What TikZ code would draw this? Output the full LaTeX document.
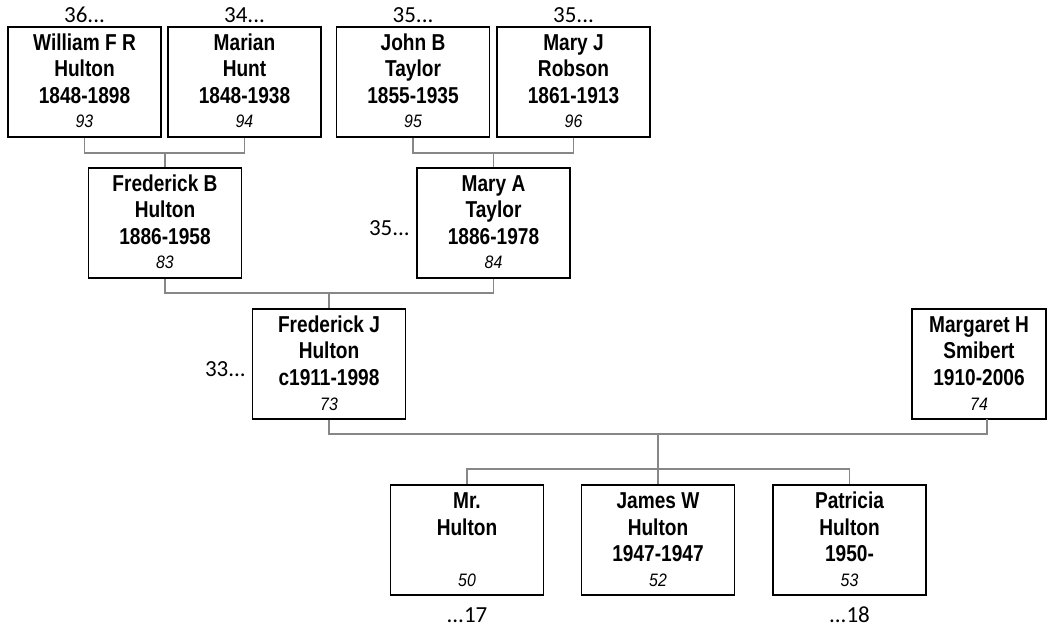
\documentclass[tikz,border=0pt]{standalone}
\usepackage{fontspec}
\setmainfont{Liberation Sans}
\newfontfamily\namefont[FakeStretch=0.83]{Liberation Sans}
\newfontfamily\numfont[FakeStretch=0.88]{Liberation Sans}
\newfontfamily\labfont{Carlito}
\tikzset{
  pbox/.style={draw=black, line width=1.8pt, minimum width=153pt, minimum height=110pt, inner sep=0pt, fill=white},
  nametext/.style={anchor=base, inner sep=0pt, font=\namefont\bfseries\fontsize{23}{26}\selectfont},
  numtext/.style={anchor=base, inner sep=0pt, font=\numfont\itshape\fontsize{18}{20}\selectfont},
  lab/.style={inner sep=0pt, font=\labfont\fontsize{23}{26}\selectfont},
  conn/.style={draw=black!47, line width=1.8pt}
}
\newcommand\personbox[8]{%
  \node[pbox,#1] (#2) at (#3,#4) {};
  \node[nametext] (#2-a) at (#3,#4-31.5) {#5};
  \node[nametext] (#2-b) at (#3,#4-5) {#6};
  \node[nametext] (#2-c) at (#3,#4+21.5) {#7};
  \node[numtext] (#2-n) at (#3,#4+46) {#8};
}
\begin{document}
\begin{tikzpicture}[x=1pt,y=-1pt]
\useasboundingbox (0,0) rectangle (1053,628);
\personbox{}{william}{84.5}{82}{William F R}{Hulton}{1848-1898}{93}
\personbox{}{marian}{244.5}{82}{Marian}{Hunt}{1848-1938}{94}
\personbox{}{john}{413}{82}{John B}{Taylor}{1855-1935}{95}
\personbox{}{maryj}{573.5}{82}{Mary J}{Robson}{1861-1913}{96}
\personbox{}{fredb}{165}{223}{Frederick B}{Hulton}{1886-1958}{83}
\personbox{}{marya}{493.5}{223}{Mary A}{Taylor}{1886-1978}{84}
\personbox{}{fredj}{329}{364}{Frederick J}{Hulton}{c1911-1998}{73}
\personbox{minimum width=134pt}{margaret}{979}{364}{Margaret H}{Smibert}{1910-2006}{74}
\personbox{}{mr}{467}{540}{Mr.}{Hulton}{}{50}
\personbox{}{james}{658}{540}{James W}{Hulton}{1947-1947}{52}
\personbox{}{patricia}{849.5}{540}{Patricia}{Hulton}{1950-}{53}
% labels
\node[lab, anchor=base] (l36) at (84.5,23) {36...};
\node[lab, anchor=base] (l34) at (244.5,23) {34...};
\node[lab, anchor=base] (l35a) at (413,23) {35...};
\node[lab, anchor=base] (l35b) at (573.5,23) {35...};
\node[lab, anchor=base east] (l35c) at (410,236) {35...};
\node[lab, anchor=base east] (l33) at (246,377) {33...};
\node[lab, anchor=base] (l17) at (467,622) {...17};
\node[lab, anchor=base] (l18) at (849.5,622) {...18};
% junctions
\coordinate (j1) at (165,153);
\coordinate (j2) at (493.5,153);
\coordinate (j3) at (329,293);
\coordinate (j4) at (658,434);
\coordinate (j5) at (658,469);
\coordinate (mgs) at (987,419);
% connectors
\draw[conn] (william.south) |- (j1) -| (marian.south);
\draw[conn] (j1) -- (fredb.north);
\draw[conn] (john.south) |- (j2) -| (maryj.south);
\draw[conn] (j2) -- (marya.north);
\draw[conn] (fredb.south) |- (j3) -| (marya.south);
\draw[conn] (j3) -- (fredj.north);
\draw[conn] (fredj.south) |- (j4) -| (mgs);
\draw[conn] (j4) -- (j5);
\draw[conn] (mr.north) |- (j5) -| (patricia.north);
\draw[conn] (j5) -- (james.north);
\end{tikzpicture}
\end{document}
